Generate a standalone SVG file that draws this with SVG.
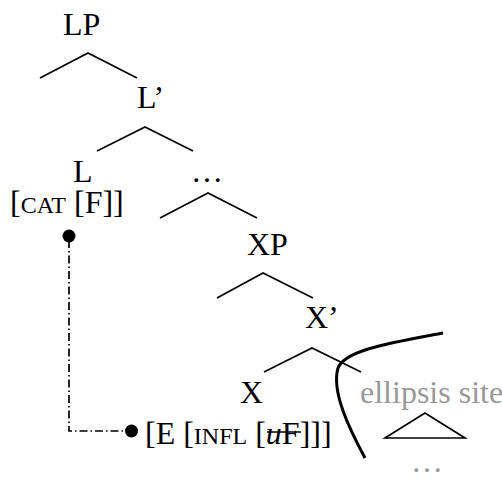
<svg xmlns="http://www.w3.org/2000/svg" width="502" height="480" viewBox="0 0 502 480">
<style>
text{font-family:"Liberation Serif","Times New Roman",serif;font-size:32px;fill:#000}
.sc{font-size:24px}
.gray{fill:#999}
.br{fill:none;stroke:#000;stroke-width:1.7}
</style>
<rect width="502" height="480" fill="#fff"/>
<g id="connectors">
<polyline class="br" points="40,78 88,53 137,78"/>
<polyline class="br" points="97,151 145,127 193,151"/>
<polyline class="br" points="160,218 208,193 257,218"/>
<polyline class="br" points="217,298 263,273 313,298"/>
<polyline class="br" points="264,372 312,348 361,372"/>
<polyline fill="none" stroke="#000" stroke-width="1.7" stroke-dasharray="8 3 1.5 3" points="69,240 69,431 126,431"/>
<path d="M443,333 C390,343 345,350 338,368 C331,392 350,430 365,458" fill="none" stroke="#000" stroke-width="3"/>
</g>
<g id="LP"><text x="63" y="35">LP</text></g>
<g id="Lbar"><text x="137" y="108">L’</text></g>
<g id="L"><text x="73" y="182">L</text><text x="10" y="213">[<tspan class="sc">CAT</tspan> [F]]</text><circle cx="69" cy="236" r="6.5"/></g>
<g id="dots1"><text x="191" y="182">…</text></g>
<g id="XP"><text x="247" y="255">XP</text></g>
<g id="Xbar"><text x="305" y="328">X’</text></g>
<g id="X"><text x="240" y="403">X</text></g>
<g id="E"><circle cx="131.5" cy="431" r="6.5"/><text x="145" y="444">[E [<tspan class="sc">INFL</tspan> [<tspan font-style="italic">u</tspan>F]]]</text><line x1="267" y1="432" x2="301" y2="432" stroke="#000" stroke-width="1.7"/></g>
<g id="ellipsis"><text class="gray" x="360" y="403">ellipsis site</text><polygon points="425,413 385,438 465,438" fill="none" stroke="#000" stroke-width="1.7"/><text class="gray" x="411" y="472">…</text></g>
</svg>
